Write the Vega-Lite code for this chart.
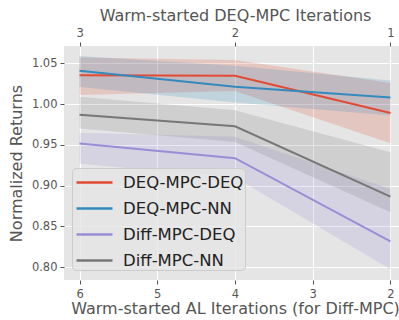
{
  "$schema": "https://vega.github.io/schema/vega-lite/v6.json",
  "width": 342,
  "height": 234,
  "autosize": "none",
  "padding": {"left": 64, "top": 46, "right": 0, "bottom": 40},
  "background": "white",
  "config": {
    "font": "DejaVu Sans",
    "view": {"fill": "#E5E5E5", "stroke": null},
    "axis": {
      "labelFont": "DejaVu Sans",
      "labelFontSize": 11.5,
      "labelColor": "#555555",
      "titleFont": "DejaVu Sans",
      "titleFontSize": 16,
      "titleFontWeight": "normal",
      "titleColor": "#555555",
      "tickColor": "#555555",
      "tickSize": 4,
      "domain": false,
      "gridColor": "#FFFFFF",
      "gridWidth": 1,
      "gridOpacity": 1
    },
    "legend": {
      "labelFont": "DejaVu Sans",
      "labelFontSize": 16.5,
      "labelColor": "#222222"
    }
  },
  "data": {
    "values": [
      {"series": "DEQ-MPC-DEQ", "al": 6, "ret": 1.0354, "lo": 1.011, "hi": 1.057},
      {"series": "DEQ-MPC-DEQ", "al": 4, "ret": 1.0347, "lo": 1.016, "hi": 1.054},
      {"series": "DEQ-MPC-DEQ", "al": 2, "ret": 0.989, "lo": 0.952, "hi": 1.026},
      {"series": "DEQ-MPC-NN", "al": 6, "ret": 1.041, "lo": 1.021, "hi": 1.059},
      {"series": "DEQ-MPC-NN", "al": 4, "ret": 1.0212, "lo": 1.002, "hi": 1.047},
      {"series": "DEQ-MPC-NN", "al": 2, "ret": 1.0081, "lo": 0.986, "hi": 1.029},
      {"series": "Diff-MPC-DEQ", "al": 6, "ret": 0.9518, "lo": 0.927, "hi": 0.965},
      {"series": "Diff-MPC-DEQ", "al": 4, "ret": 0.9337, "lo": 0.91, "hi": 0.96},
      {"series": "Diff-MPC-DEQ", "al": 2, "ret": 0.8316, "lo": 0.7975, "hi": 0.896},
      {"series": "Diff-MPC-NN", "al": 6, "ret": 0.987, "lo": 0.97, "hi": 1.009},
      {"series": "Diff-MPC-NN", "al": 4, "ret": 0.9728, "lo": 0.9535, "hi": 0.9925},
      {"series": "Diff-MPC-NN", "al": 2, "ret": 0.8866, "lo": 0.8673, "hi": 0.941}
    ]
  },
  "layer": [
    {
      "mark": {"type": "area", "fillOpacity": 0.2, "clip": true},
      "encoding": {
        "x": {
          "field": "al", "type": "quantitative",
          "scale": {"domain": [1.8, 6.2], "reverse": true, "nice": false, "zero": false},
          "axis": {"orient": "bottom", "values": [6, 5, 4, 3, 2], "format": "d", "title": "Warm-started AL Iterations (for Diff-MPC)", "labelPadding": 4, "titlePadding": 1}
        },
        "y": {
          "field": "lo", "type": "quantitative",
          "scale": {"domain": [0.7844, 1.0712], "nice": false, "zero": false},
          "axis": {"values": [0.8, 0.85, 0.9, 0.95, 1.0, 1.05], "format": ".2f", "title": "Normalized Returns", "labelPadding": 3, "titlePadding": 7}
        },
        "y2": {"field": "hi"},
        "color": {
          "field": "series", "type": "nominal",
          "scale": {"domain": ["DEQ-MPC-DEQ", "DEQ-MPC-NN", "Diff-MPC-DEQ", "Diff-MPC-NN"], "range": ["#E24A33", "#348ABD", "#988ED5", "#777777"]}
        }
      }
    },
    {
      "mark": {"type": "line", "strokeWidth": 2, "clip": true},
      "encoding": {
        "x": {
          "field": "al", "type": "quantitative",
          "axis": {"orient": "top", "values": [6, 4, 2], "grid": false, "labelExpr": "datum.value == 6 ? '3' : (datum.value == 4 ? '2' : '1')", "title": "Warm-started DEQ-MPC Iterations", "labelPadding": 4, "titlePadding": 4}
        },
        "y": {"field": "ret", "type": "quantitative"},
        "color": {
          "field": "series", "type": "nominal",
          "legend": {
            "title": null,
            "orient": "none",
            "legendX": 8,
            "legendY": 122,
            "symbolType": "M-1.5,0H1.5",
            "symbolSize": 576,
            "symbolOffset": 8,
            "symbolStrokeWidth": 2.5,
            "symbolOpacity": 1,
            "symbolFillColor": "transparent",
            "labelOffset": 15,
            "rowPadding": 4,
            "padding": 1,
            "fillColor": "rgba(229,229,229,0.8)",
            "strokeColor": "#CCCCCC",
            "cornerRadius": 4
          }
        }
      }
    }
  ],
  "resolve": {"axis": {"x": "independent"}}
}
